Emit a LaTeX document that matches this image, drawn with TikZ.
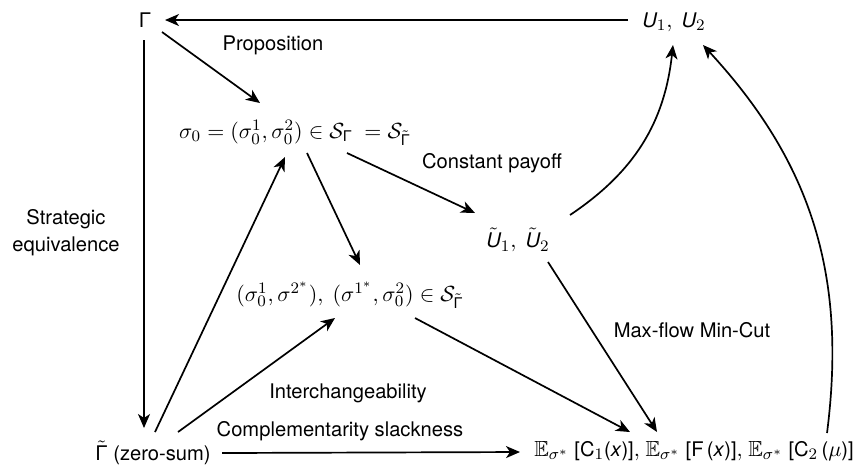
\documentclass[11pt,tikz,border=0pt]{standalone}
\usepackage{amsmath,amssymb}
\usepackage{fontspec}
\setmainfont{TeX Gyre Heros}[Scale=0.92]
\usetikzlibrary{arrows.meta}

\begin{document}
\begin{tikzpicture}[x=0.5pt,y=-0.5pt,every node/.style={inner sep=1pt},
  arr/.style={-{Stealth[length=7pt,width=6pt,inset=2pt]},line width=0.85pt},
  lbl/.style={align=center}]
\useasboundingbox (0,0) rectangle (865,468);
% games, strategies and payoffs
\node (G) at (145,20) {Γ};
\node (U) at (674,22) {$\mathit{U}_1,\ \mathit{U}_2$};
\node (s0) at (295,133) {$\sigma_0=(\sigma_0^1,\sigma_0^2)\in\mathcal{S}_{\text{Γ}}\ =\mathcal{S}_{\tilde{\text{Γ}}}$};
\node (Ut) at (518,240) {$\tilde{\mathit{U}}_1,\ \tilde{\mathit{U}}_2$};
\node (pair) at (350,295) {$(\sigma_0^1,\sigma^{2^*}),\ (\sigma^{1^*},\sigma_0^2)\in\mathcal{S}_{\tilde{\text{Γ}}}$};
\node (Gt) at (153,453) {$\tilde{\text{Γ}}$ (zero-sum)};
\node (E) at (694,451) {$\mathbb{E}_{\sigma^*}$ [C$_1$(\textit{x})]$,$ $\mathbb{E}_{\sigma^*}$ [F\,(\textit{x})]$,$ $\mathbb{E}_{\sigma^*}$ [C$_2$\,($\mu$)]};
% arrow labels
\node[lbl] (lprop) at (273,45) {Proposition};
\node[lbl] (lconst) at (492,163) {Constant payoff};
\node[lbl] (lstrat) at (66,233) {Strategic\\equivalence};
\node[lbl] (lmax) at (692,330) {Max-flow Min-Cut};
\node[lbl] (linter) at (348,393) {Interchangeability};
\node[lbl] (lcomp) at (340,431) {Complementarity slackness};
% arrows
\draw[arr] ([shift={(-46,-2)}]U.center) -- ([shift={(20,0)}]G.center);
\draw[arr] ([shift={(17,12)}]G.center) -- ([shift={(-35,-30)}]s0.center);
\draw[arr] ([shift={(-1,20)}]G.center) -- ([shift={(-1,408)}]G.center);
\draw[arr] ([shift={(2,-21)}]Gt.center) -- ([shift={(-10,24)}]s0.center);
\draw[arr] ([shift={(25,-21)}]Gt.center) -- ([shift={(-15,23)}]pair.center);
\draw[arr] ([shift={(12,20)}]s0.center) -- ([shift={(10,-30)}]pair.center);
\draw[arr] ([shift={(52,20)}]s0.center) -- ([shift={(-43,-27)}]Ut.center);
\draw[arr] ([shift={(52,-25)}]Ut.center) to[bend right=25] ([shift={(-1,23)}]U.center);
\draw[arr] ([shift={(133,-18)}]E.center) to[bend right=25] ([shift={(29,23)}]U.center);
\draw[arr] ([shift={(30,22)}]Ut.center) -- ([shift={(-37,-19)}]E.center);
\draw[arr] ([shift={(65,23)}]pair.center) -- ([shift={(-64,-19)}]E.center);
\draw[arr] ([shift={(69,0)}]Gt.center) -- ([shift={(-174,1)}]E.center);
\end{tikzpicture}
\end{document}
